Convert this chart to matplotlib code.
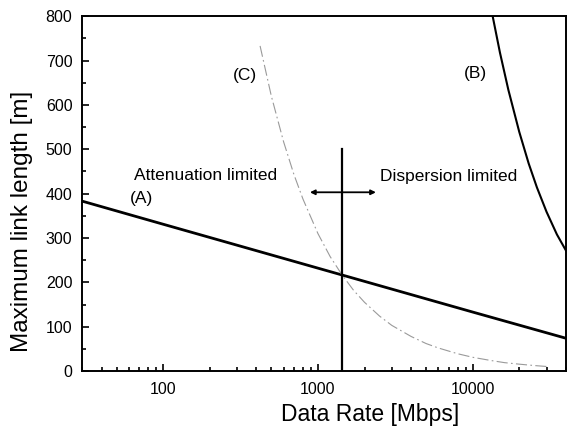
import numpy as np
import matplotlib.pyplot as plt
from matplotlib.ticker import LogLocator, NullFormatter, FixedLocator, MultipleLocator

plt.rcParams['font.family'] = ['Liberation Sans', 'DejaVu Sans']

# (A) attenuation limited
rate_a = [30, 100, 1000, 10000, 40000]
len_a = [383, 331, 232, 133, 74]

# (B)
rate_b = [13460, 15000, 17000, 20000, 23000, 26000, 30000, 35000, 40000]
len_b = [800, 718, 634, 539, 468, 414, 359, 308, 272]

# (C)
rate_c = [423, 500, 600, 700, 800, 1000, 1200, 1430, 1700, 2000, 2500, 3000,
          4000, 5000, 6000, 8000, 10000, 13000, 16000, 20000, 25000, 30000]
len_c = [733, 620, 517, 443, 388, 310, 258, 217, 182, 155, 124, 103,
         78, 62, 52, 39, 31, 24, 19, 15.5, 12.4, 10.3]

boundary_rate = 1430
boundary_top = 500

fig = plt.figure(figsize=(5.67, 4.26), dpi=100)
ax = fig.add_axes([0.145, 0.129, 0.853, 0.833])

ax.plot(rate_a, len_a, color='black', lw=2.0)
ax.plot(rate_b, len_b, color='black', lw=1.5)
ax.plot(rate_c, len_c, color='#9a9a9a', lw=0.8, linestyle=(0, (10, 3, 1.5, 3)))
ax.plot([boundary_rate, boundary_rate], [0, boundary_top], color='black', lw=1.6)
ax.annotate('', xy=(2370, 403), xytext=(888, 403),
            arrowprops=dict(arrowstyle='<|-|>', color='black', lw=1.3,
                            mutation_scale=7, shrinkA=0, shrinkB=0))

ax.set_xscale('log')
ax.set_xlim(30, 40000)
ax.set_ylim(0, 800)
ax.xaxis.set_major_locator(FixedLocator([100, 1000, 10000]))
ax.xaxis.set_major_formatter(plt.FuncFormatter(lambda v, p: '%d' % v))
ax.xaxis.set_minor_locator(LogLocator(base=10, subs=np.arange(2, 10)))
ax.xaxis.set_minor_formatter(NullFormatter())
ax.yaxis.set_major_locator(MultipleLocator(100))
ax.yaxis.set_minor_locator(MultipleLocator(50))
ax.tick_params(which='both', direction='in', top=False, right=False, labelsize=11.5, width=1.2)
ax.tick_params(which='major', length=5)
ax.tick_params(which='minor', length=3)
ax.tick_params(axis='y', which='major', pad=7)
ax.tick_params(axis='x', which='major', pad=8)
for s in ax.spines.values():
    s.set_linewidth(1.4)

ax.set_xlabel('Data Rate [Mbps]', fontsize=16.5)
ax.set_ylabel('Maximum link length [m]', fontsize=17.5)
ax.xaxis.set_label_coords((370 - 82) / 484, -(414 - 371) / 355)
ax.yaxis.set_label_coords(-(82 - 22) / 484, (371 - 221) / 355)
ax.xaxis.label.set_va('center')
ax.yaxis.label.set_va('center')

tfs = 12.5
ax.text(187, 441, 'Attenuation limited', fontsize=tfs, ha='center', va='center')
ax.text(72, 390, '(A)', fontsize=tfs, ha='center', va='center')
ax.text(7000, 439, 'Dispersion limited', fontsize=tfs, ha='center', va='center')
ax.text(338, 667, '(C)', fontsize=tfs, ha='center', va='center')
ax.text(10450, 671, '(B)', fontsize=tfs, ha='center', va='center')

fig.savefig('out.png', dpi=100)
